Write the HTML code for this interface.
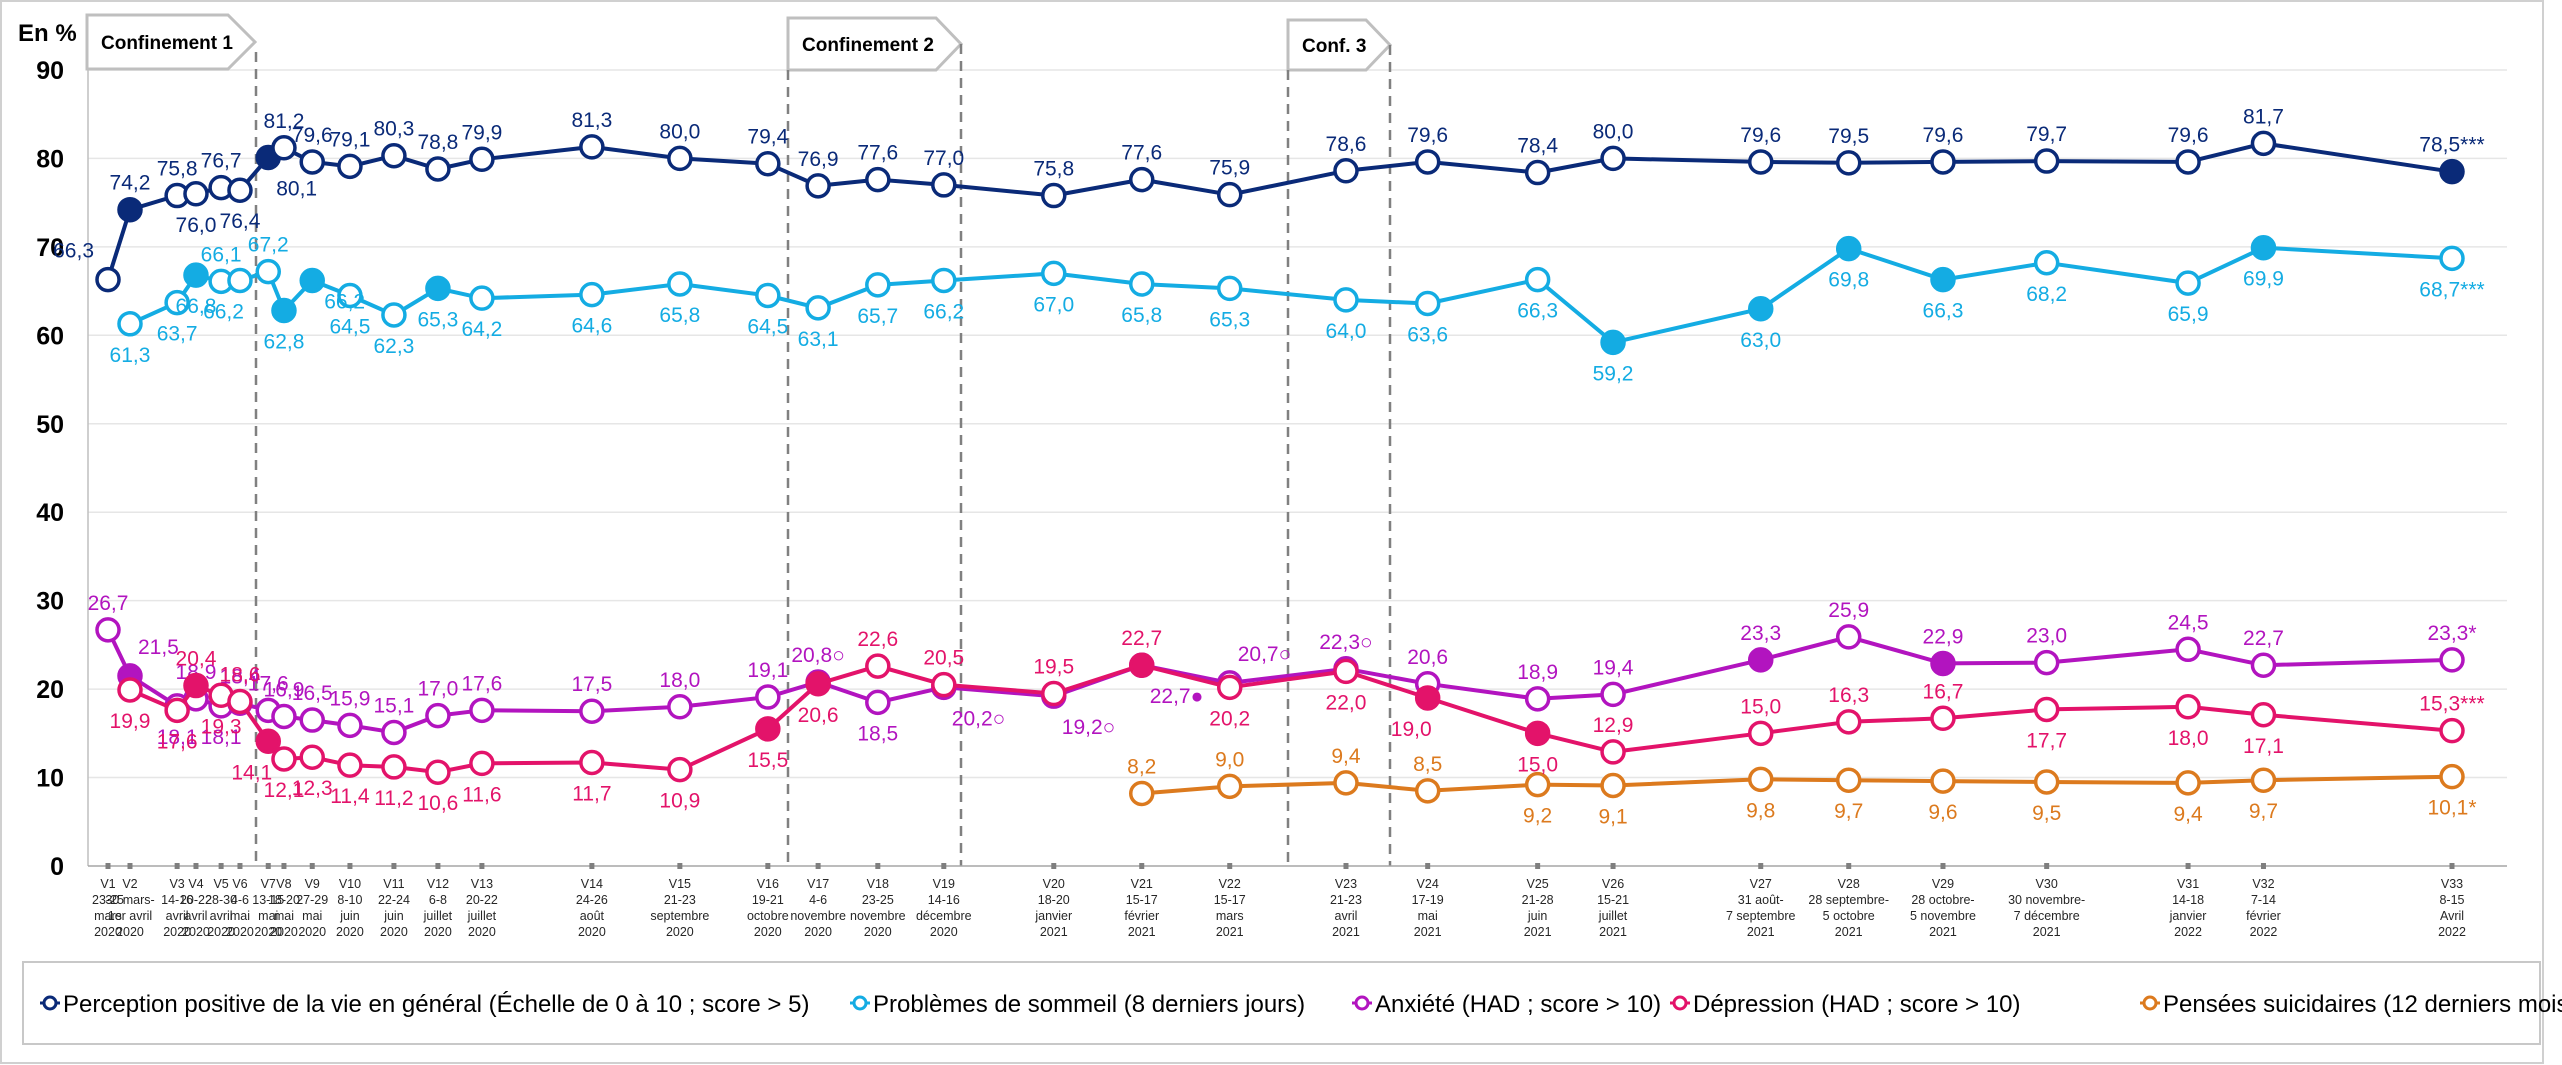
<!DOCTYPE html>
<html><head><meta charset="utf-8"><style>
html,body{margin:0;padding:0;background:#fff;}
svg{display:block;font-family:"Liberation Sans",sans-serif;}
</style></head><body>
<svg id="chart" width="2562" height="1065" viewBox="0 0 2562 1065" xmlns="http://www.w3.org/2000/svg">
<rect x="1" y="1" width="2542" height="1062" fill="#fff" stroke="#d0d0d0" stroke-width="2"/>
<g id="grid"></g>
<g id="conf"></g>
<g id="axes"></g>
<g id="series"></g>
<g id="legend"></g>
</svg>
<script>
const waves = ["V1","V2","V3","V4","V5","V6","V7","V8","V9","V10","V11","V12","V13","V14","V15","V16","V17","V18","V19","V20","V21","V22","V23","V24","V25","V26","V27","V28","V29","V30","V31","V32","V33"];
const waveDates = ["2020-03-23","2020-03-30","2020-04-14","2020-04-20","2020-04-28","2020-05-04","2020-05-13","2020-05-18","2020-05-27","2020-06-08","2020-06-22","2020-07-06","2020-07-20","2020-08-24","2020-09-21","2020-10-19","2020-11-04","2020-11-23","2020-12-14","2021-01-18","2021-02-15","2021-03-15","2021-04-21","2021-05-17","2021-06-21","2021-07-15","2021-08-31","2021-09-28","2021-10-28","2021-11-30","2022-01-14","2022-02-07","2022-04-08"];
const tickLabels = ["23-25|mars|2020","30 mars-|1er avril|2020","14-16|avril|2020","20-22|avril|2020","28-30|avril|2020","4-6|mai|2020","13-15|mai|2020","18-20|mai|2020","27-29|mai|2020","8-10|juin|2020","22-24|juin|2020","6-8|juillet|2020","20-22|juillet|2020","24-26|août|2020","21-23|septembre|2020","19-21|octobre|2020","4-6|novembre|2020","23-25|novembre|2020","14-16|décembre|2020","18-20|janvier|2021","15-17|février|2021","15-17|mars|2021","21-23|avril|2021","17-19|mai|2021","21-28|juin|2021","15-21|juillet|2021","31 août-|7 septembre|2021","28 septembre-|5 octobre|2021","28 octobre-|5 novembre|2021","30 novembre-|7 décembre|2021","14-18|janvier|2022","7-14|février|2022","8-15|Avril|2022"];
const yTicks = [0,10,20,30,40,50,60,70,80,90];

const perception = [66.3,74.2,75.8,76.0,76.7,76.4,80.1,81.2,79.6,79.1,80.3,78.8,79.9,81.3,80.0,79.4,76.9,77.6,77.0,75.8,77.6,75.9,78.6,79.6,78.4,80.0,79.6,79.5,79.6,79.7,79.6,81.7,78.5];
const perceptionFilled = [0,1,0,0,0,0,1,0,0,0,0,0,0,0,0,0,0,0,0,0,0,0,0,0,0,0,0,0,0,0,0,0,1];
const perceptionPos = ["l","a","a","b","a","b","br","a","a","a","a","a","a","a","a","a","a","a","a","a","a","a","a","a","a","a","a","a","a","a","a","a","a"];
const perceptionSuffix = {32:"***"};

const sleep = [null,61.3,63.7,66.8,66.1,66.2,67.2,62.8,66.2,64.5,62.3,65.3,64.2,64.6,65.8,64.5,63.1,65.7,66.2,67.0,65.8,65.3,64.0,63.6,66.3,59.2,63.0,69.8,66.3,68.2,65.9,69.9,68.7];
const sleepFilled = [0,0,0,1,0,0,0,1,1,0,0,1,0,0,0,0,0,0,0,0,0,0,0,0,0,1,1,1,1,0,0,1,0];
const sleepPos = ["b","b","b","b","a","bl","a","b","r","b","b","b","b","b","b","b","b","b","b","b","b","b","b","b","b","b","b","b","b","b","b","b","b"];
const sleepSuffix = {32:"***"};

const anxiety = [26.7,21.5,18.1,18.9,18.1,18.4,17.6,16.9,16.5,15.9,15.1,17.0,17.6,17.5,18.0,19.1,20.8,18.5,20.2,19.2,22.7,20.7,22.3,20.6,18.9,19.4,23.3,25.9,22.9,23.0,24.5,22.7,23.3];
const anxietyFilled = [0,1,0,0,0,0,0,0,0,0,0,0,0,0,0,0,0,0,0,0,0,0,0,0,0,0,1,0,1,0,0,0,0];
const anxietyPos = ["a","ar","b","a","b","a","a","a","a","a","a","a","a","a","a","a","a","b","br","br","br","ar","a","a","a","a","a","a","a","a","a","a","a"];
const anxietySuffix = {16:"○",18:"○",19:"○",20:"●",21:"○",22:"○",32:"*"};

const depression = [null,19.9,17.6,20.4,19.3,18.6,14.1,12.1,12.3,11.4,11.2,10.6,11.6,11.7,10.9,15.5,20.6,22.6,20.5,19.5,22.7,20.2,22.0,19.0,15.0,12.9,15.0,16.3,16.7,17.7,18.0,17.1,15.3];
const depressionFilled = [0,0,0,1,0,0,1,0,0,0,0,0,0,0,0,1,1,0,0,0,1,0,0,1,1,0,0,0,0,0,0,0,0];
const depressionPos = ["b","b","b","a","b","a","bl","b","b","b","b","b","b","b","b","b","b","a","a","a","a","b","b","bl","b","a","a","a","a","b","b","b","a"];
const depressionSuffix = {32:"***"};

const suicide = [null,null,null,null,null,null,null,null,null,null,null,null,null,null,null,null,null,null,null,null,8.2,9.0,9.4,8.5,9.2,9.1,9.8,9.7,9.6,9.5,9.4,9.7,10.1];
const suicideFilled = new Array(33).fill(0);
const suicidePos = ["b","b","b","b","b","b","b","b","b","b","b","b","b","b","b","b","b","b","b","b","a","a","a","a","b","b","b","b","b","b","b","b","b"];
const suicideSuffix = {32:"*"};

const legendLabels = ["Perception positive de la vie en général (Échelle de 0 à 10 ; score > 5)","Problèmes de sommeil (8 derniers jours)","Anxiété (HAD ; score > 10)","Dépression (HAD ; score > 10)","Pensées suicidaires (12 derniers mois)"];

const NS="http://www.w3.org/2000/svg";
const X0=108, X1=2452, PL=88, PR=2507, Y0=866, YK=8.845;
const d0=Date.parse(waveDates[0]), dN=Date.parse(waveDates[waveDates.length-1]);
function xs(i){return X0+(Date.parse(waveDates[i])-d0)/(dN-d0)*(X1-X0);}
function ys(v){return Y0-v*YK;}
function mk(tag,attrs,parent){const e=document.createElementNS(NS,tag);for(const k in attrs)e.setAttribute(k,attrs[k]);parent.appendChild(e);return e;}

const grid=document.getElementById('grid'), axes=document.getElementById('axes');
yTicks.forEach(t=>{
  if(t>0){const g=mk('line',{x1:PL,x2:PR,y1:ys(t),y2:ys(t),stroke:'#e6e6e6','stroke-width':1.5},grid);
  
  }
  const tx=mk('text',{x:64,y:ys(t)+9,'text-anchor':'end','font-size':25,'font-weight':'bold',fill:'#000'},axes);
  tx.textContent=t;
  
  
});
const yt=mk('text',{x:18,y:41,'font-size':24,'font-weight':'bold',fill:'#000'},axes);
yt.textContent='En %';


const ya=mk('line',{x1:PL,x2:PL,y1:70,y2:Y0,stroke:'#bfbfbf','stroke-width':1.5},axes);


const xa=mk('line',{x1:PL,x2:PR,y1:Y0,y2:Y0,stroke:'#a6a6a6','stroke-width':1.5},axes);


waves.forEach((w,i)=>{
  const x=xs(i);
  const tk=mk('rect',{x:x-2.5,y:Y0-3,width:5,height:6,fill:'#7f7f7f'},axes);
  
  
  const lines=[w].concat(tickLabels[i].split('|'));
  const t=mk('text',{x:x,'text-anchor':'middle','font-size':12.5,fill:'#262626'},axes);
  
  
  lines.forEach((l,j)=>{const s=mk('tspan',{x:x,y:888+j*16},t);s.textContent=l;});
});

// confinement markers
const conf=document.getElementById('conf');
function confBox(name,label,x1,x2,notch,top,bot,lines,dashTop){
  const g=mk('g',{},conf);
  
  
  const mid=(top+bot)/2;
  mk('polygon',{points:`${x1},${top} ${notch},${top} ${x2},${mid} ${notch},${bot} ${x1},${bot}`,fill:'#fff',stroke:'#bfbfbf','stroke-width':3},g);
  const t=mk('text',{x:x1+14,y:mid+7,'font-size':19,'font-weight':'bold',fill:'#000'},g);t.textContent=label;
  lines.forEach((lx,k)=>{mk('line',{x1:lx,x2:lx,y1:dashTop[k],y2:Y0,stroke:'#808080','stroke-width':2.5,'stroke-dasharray':'10,7'},g);});
}
confBox('confinement-1-marker','Confinement 1',87,255,228,15,69,[256],[52]);
confBox('confinement-2-marker','Confinement 2',788,961,936,18,70,[788,961],[70,44]);
confBox('confinement-3-marker','Conf. 3',1288,1390,1366,20,70,[1288,1390],[70,45]);

// series
const series=[
 {name:'perception',data:perception,filled:perceptionFilled,pos:perceptionPos,suf:perceptionSuffix,color:'#0a2a78'},
 {name:'sleep-problems',data:sleep,filled:sleepFilled,pos:sleepPos,suf:sleepSuffix,color:'#14ace3'},
 {name:'suicidal-thoughts',data:suicide,filled:suicideFilled,pos:suicidePos,suf:suicideSuffix,color:'#dc7a1e'},
 {name:'anxiety',data:anxiety,filled:anxietyFilled,pos:anxietyPos,suf:anxietySuffix,color:'#b214bf'},
 {name:'depression',data:depression,filled:depressionFilled,pos:depressionPos,suf:depressionSuffix,color:'#e3136a'}
];
const sg=document.getElementById('series');
series.forEach(s=>{
  const g=mk('g',{},sg);
  
  
  let d='';
  s.data.forEach((v,i)=>{if(v==null)return;d+=(d?'L':'M')+xs(i).toFixed(1)+','+ys(v).toFixed(1);});
  const p=mk('path',{d:d,fill:'none',stroke:s.color,'stroke-width':4,'stroke-linejoin':'round'},g);
  
  
  s.data.forEach((v,i)=>{
    if(v==null)return;
    const x=xs(i),y=ys(v);
    const c=mk('circle',{cx:x,cy:y,r:11,fill:s.filled[i]?s.color:'#fff',stroke:s.color,'stroke-width':3.5},g);
    
    
  });
  s.data.forEach((v,i)=>{
    if(v==null)return;
    const x=xs(i),y=ys(v);
    let tx=x,ty=y-20,anc='middle';
    const ps=s.pos[i];
    if(ps==='b'){ty=y+38;}
    else if(ps==='l'){tx=x-14;ty=y-22;anc='end';}
    else if(ps==='r'){tx=x+12;ty=y+28;anc='start';}
    else if(ps==='br'){tx=x+8;ty=y+38;anc='start';}
    else if(ps==='bl'){tx=x+4;ty=y+38;anc='end';}
    else if(ps==='ar'){tx=x+8;ty=y-22;anc='start';}
    const t=mk('text',{x:tx,y:ty,'text-anchor':anc,'font-size':21,fill:s.color},g);
    t.textContent=v.toFixed(1).replace('.',',')+(s.suf[i]||'');
    
    
  });
});

// legend
const lg=document.getElementById('legend');
const lb=mk('rect',{x:23,y:962,width:2517,height:82,fill:'#fff',stroke:'#c8c8c8','stroke-width':2},lg);


const legendX=[50,860,1362,1680,2150];
const legendColors=['#0a2a78','#14ace3','#b214bf','#e3136a','#dc7a1e'];
const legendNames=['perception','sleep-problems','anxiety','depression','suicidal-thoughts'];
legendLabels.forEach((l,i)=>{
  const g=mk('g',{},lg);
  
  
  const x=legendX[i];
  mk('line',{x1:x-10,x2:x+10,y1:1003,y2:1003,stroke:legendColors[i],'stroke-width':3},g);
  mk('circle',{cx:x,cy:1003,r:6,fill:'#fff',stroke:legendColors[i],'stroke-width':3},g);
  const t=mk('text',{x:x+13,y:1012,'font-size':24,fill:'#000'},g);
  t.textContent=l;
});
</script>
</body></html>
